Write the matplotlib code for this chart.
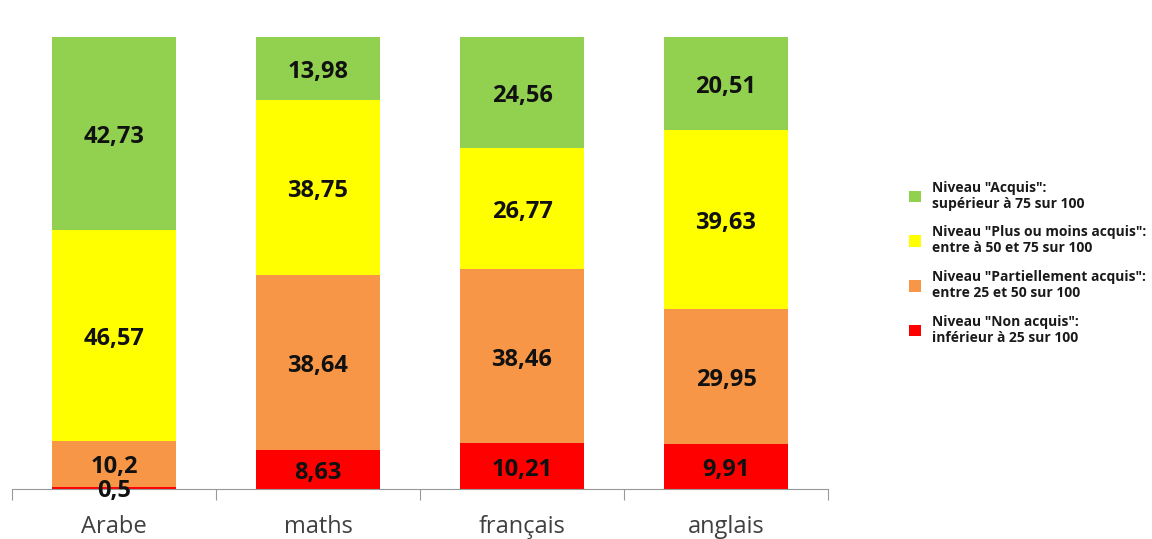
import matplotlib.pyplot as plt
from matplotlib.patches import Patch

categories = ["Arabe", "maths", "français", "anglais"]
non_acquis = [0.5, 8.63, 10.21, 9.91]
partiel = [10.2, 38.64, 38.46, 29.95]
plus_moins = [46.57, 38.75, 26.77, 39.63]
acquis = [42.73, 13.98, 24.56, 20.51]

series = [non_acquis, partiel, plus_moins, acquis]
colors = ["#FF0000", "#F79646", "#FFFF00", "#92D050"]
legend_labels = [
    'Niveau "Non acquis":\ninférieur à 25 sur 100',
    'Niveau "Partiellement acquis":\nentre 25 et 50 sur 100',
    'Niveau "Plus ou moins acquis":\nentre à 50 et 75 sur 100',
    'Niveau "Acquis":\nsupérieur à 75 sur 100',
]

plt.rcParams["font.family"] = ["Open Sans", "DejaVu Sans"]

fig = plt.figure(figsize=(11.52, 5.39), dpi=100)
ax = fig.add_axes([12 / 1152, 50 / 539, 816 / 1152, 452 / 539])

x = range(len(categories))
bottom = [0] * len(categories)
for vals, col in zip(series, colors):
    ax.bar(x, vals, bottom=bottom, width=0.61, color=col, edgecolor="none")
    for i, v in enumerate(vals):
        ax.text(i, bottom[i] + v / 2 - 0.8, str(v).replace(".", ","), ha="center", va="center",
                fontsize=17, fontweight="bold", color="#111111")
    bottom = [b + v for b, v in zip(bottom, vals)]

ax.set_xlim(-0.5, 3.5)
ax.set_ylim(0, 100)
for s in ["top", "right", "left"]:
    ax.spines[s].set_visible(False)
ax.spines["bottom"].set_color("#999999")
ax.set_yticks([])
ax.set_xticks([-0.5, 0.5, 1.5, 2.5, 3.5])
ax.set_xticklabels([])
ax.set_xticks(list(x), minor=True)
ax.set_xticklabels(categories, minor=True, fontsize=17, color="#404040")
ax.tick_params(axis="x", which="major", length=8, color="#999999", direction="out")
ax.tick_params(axis="x", which="minor", length=0, pad=19)

handles = [Patch(facecolor=c, edgecolor="none") for c in colors]
fig.legend(handles[::-1], legend_labels[::-1], loc="upper left", bbox_to_anchor=(896 / 1152, 1 - 168 / 539),
           frameon=False, prop={"size": 10, "weight": "bold"}, handlelength=0.9, handleheight=0.9,
           labelspacing=1.05, handletextpad=0.8, labelcolor="#1a1a1a")

plt.savefig("out.png", dpi=100)
